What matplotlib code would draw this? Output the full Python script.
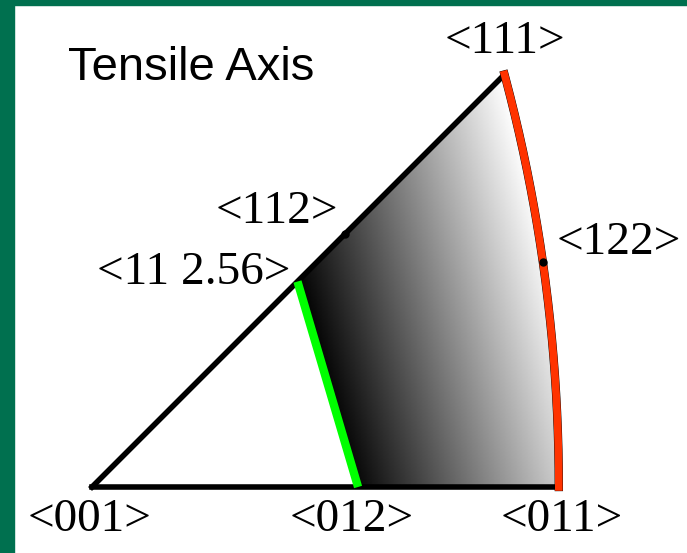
import numpy as np
import matplotlib.pyplot as plt
from matplotlib.patches import Polygon, Rectangle

# poles of the standard triangle (Miller indices, h k l)
pole_names = ["<001>", "<012>", "<011>", "<111>", "<112>", "<11 2.56>", "<122>"]
pole_hkl = [(0, 0, 1), (0, 1, 2), (0, 1, 1), (1, 1, 1), (1, 1, 2), (1, 1, 2.56), (1, 2, 2)]
# label offsets from pole, in pixels (x right, y up)
label_off = [(-2, -33), (-6, -33), (3, -33), (0, 33), (-68, 22), (-104, 9), (76, 19)]
dot_poles = ["<112>", "<122>"]


def stereo(hkl):
    v = np.array(hkl, dtype=float)
    v = v / np.linalg.norm(v)
    h, k, l = v
    return k / (1 + l), h / (1 + l)


P = {n: stereo(p) for n, p in zip(pole_names, pole_hkl)}

# arc 011 -> 111 : directions (h, 1, 1)
hs = np.linspace(0, 1, 200)
arc = np.array([stereo((h, 1, 1)) for h in hs])

W, H = 687, 553
scale = 1127.0      # px per projection unit
org = (92, 487)     # pixel position of <001>

fig = plt.figure(figsize=(W / 100, H / 100), dpi=100)
fig.patch.set_facecolor("white")
ax = fig.add_axes([0, 0, 1, 1])
ax.set_xlim(-org[0] / scale, (W - org[0]) / scale)
ax.set_ylim(-(H - org[1]) / scale, org[1] / scale)
ax.axis("off")

# green frame (left and top)
green = "#00704f"
fig.patches.append(Rectangle((0, 0), 14 / W, 1, transform=fig.transFigure, color=green, zorder=0))
fig.patches.append(Rectangle((0, 1 - 5 / H), 1, 5 / H, transform=fig.transFigure, color=green, zorder=0))

# gradient region
region = [P["<11 2.56>"], P["<012>"]] + list(arc) + [P["<111>"]]
poly = Polygon(region, closed=True, facecolor="none", edgecolor="none")
ax.add_patch(poly)
gx = np.linspace(0.15, 0.45, 400)
gy = np.linspace(-0.01, 0.40, 400)
X, Y = np.meshgrid(gx, gy)
x0 = P["<012>"][0] - 8 / scale
val = np.clip(4.3 * (X - x0) + 1.15 * Y, 0, 1)
im = ax.imshow(val, cmap="gray", vmin=0, vmax=1, origin="lower",
               extent=(gx[0], gx[-1], gy[0], gy[-1]), interpolation="bilinear", zorder=1)
im.set_clip_path(poly)

# black triangle edges
ax.plot([P["<001>"][0], P["<011>"][0]], [P["<001>"][1], P["<011>"][1]], color="black", lw=4,
        solid_capstyle="projecting", zorder=3)
ax.plot([P["<001>"][0], P["<111>"][0]], [P["<001>"][1], P["<111>"][1]], color="black", lw=4,
        solid_capstyle="projecting", zorder=3)
ax.plot(arc[:, 0], arc[:, 1], color="black", lw=6, zorder=3)

# red arc and green line
ax.plot(arc[:, 0], arc[:, 1], color="#ff3300", lw=5.5, zorder=4)
ax.plot([P["<11 2.56>"][0], P["<012>"][0]], [P["<11 2.56>"][1], P["<012>"][1]],
        color="#00ff00", lw=6, solid_capstyle="butt", zorder=4)

for n in dot_poles:
    ax.plot(*P[n], "o", color="black", ms=5, zorder=5)

for n, (dx, dy) in zip(pole_names, label_off):
    ax.annotate(n, P[n], xytext=(dx * 0.72, dy * 0.72), textcoords="offset points",
                ha="center", va="center", fontsize=34, family="Liberation Serif", zorder=6)

fig.text(68 / W, 1 - 80 / H, "Tensile Axis", ha="left", va="baseline",
         fontsize=34, family="Liberation Sans")

fig.savefig("out.png", dpi=100)
